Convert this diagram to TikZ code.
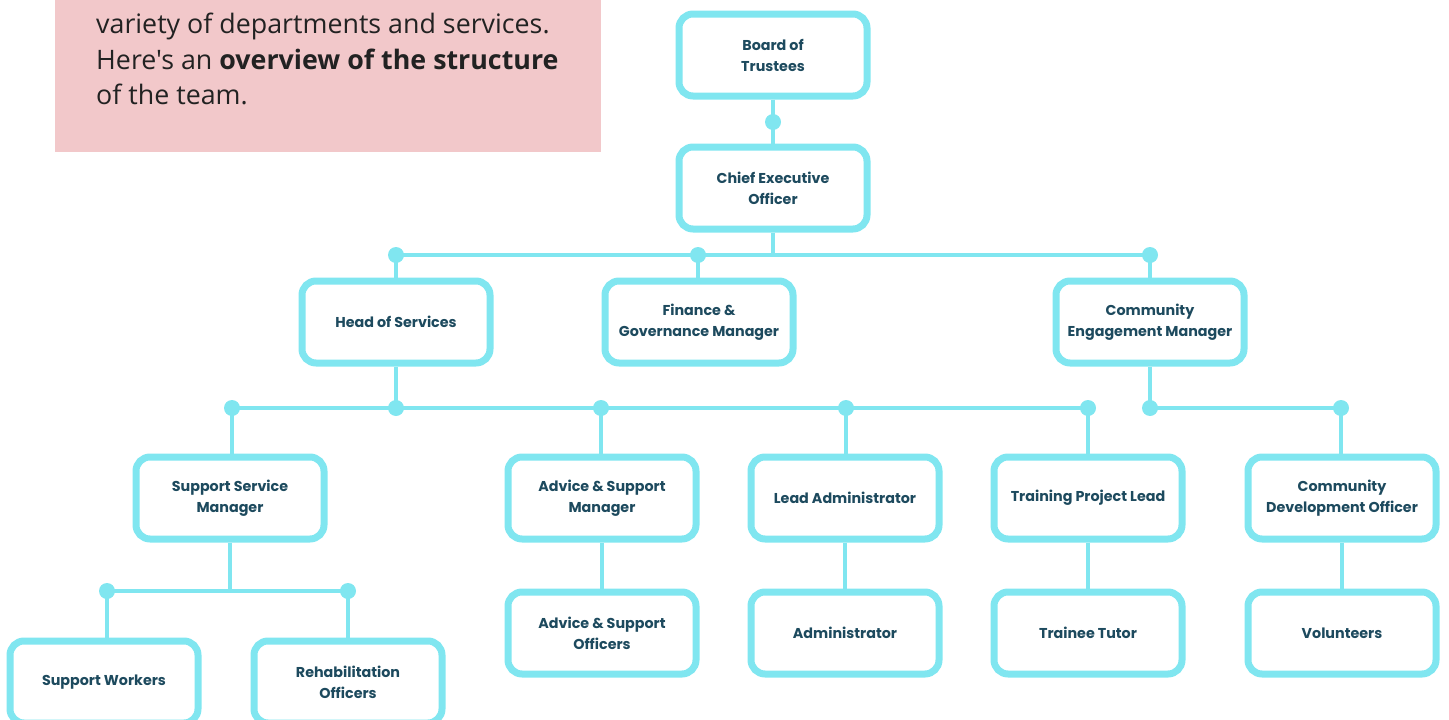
\documentclass[tikz,border=0pt]{standalone}
\usepackage{fontspec}
\setmainfont{Open Sans}[Ligatures=TeXOff]
\newfontfamily\boxfont{Poppins}
\usetikzlibrary{backgrounds}
\definecolor{cyanline}{HTML}{80E6F0}
\definecolor{boxtext}{HTML}{1D4A5E}
\definecolor{pinkbg}{HTML}{F2C8CA}
\definecolor{bodytext}{HTML}{222222}
\begin{document}
\begin{tikzpicture}[x=1pt,y=-1pt,
  role/.style={draw=cyanline, line width=7pt, rounded corners=14pt, fill=white,
    minimum width=188pt, minimum height=82pt, align=center, inner sep=0pt,
    font=\boxfont\bfseries\fontsize{14.3}{21}\selectfont, text=boxtext},
  link/.style={draw=cyanline, line width=4pt},
  dot/.style={circle, fill=cyanline, minimum size=16pt, inner sep=0pt},
  body/.style={anchor=base west, inner sep=0pt, text=bodytext, font=\fontsize{26.8}{36}\selectfont}]
\useasboundingbox (0,0) rectangle (1449,720);
\clip (0,0) rectangle (1449,720);
% intro box
\fill[pinkbg] (55,-5) rectangle (601,152);
\node[body] (t1) at (96,34) {variety of departments and services.};
\node[body] (t2) at (96,69) {Here's an \textbf{overview of the structure}};
\node[body] (t3) at (96,104) {of the team.};
% roles
\node[role] (bot) at (773,55) {Board of\\Trustees};
\node[role] (ceo) at (773,188) {Chief Executive\\Officer};
\node[role] (hos) at (396,322) {Head of Services};
\node[role] (fin) at (699,322) {Finance \&\\Governance Manager};
\node[role] (cem) at (1150,322) {Community\\Engagement Manager};
\node[role] (ssm) at (230,498) {Support Service\\Manager};
\node[role] (asm) at (602,498) {Advice \& Support\\Manager};
\node[role] (lad) at (845,498) {Lead Administrator};
\node[role] (tpl) at (1088,498) {Training Project Lead};
\node[role] (cdo) at (1342,498) {Community\\Development Officer};
\node[role] (aso) at (602,633) {Advice \& Support\\Officers};
\node[role] (adm) at (845,633) {Administrator};
\node[role] (tt) at (1088,633) {Trainee Tutor};
\node[role] (vol) at (1342,633) {Volunteers};
\node[role] (sw) at (104,682) {Support Workers};
\node[role] (ro) at (348,682) {Rehabilitation\\Officers};
% junction dots
\node[dot] (j0) at (773,122) {};
\coordinate (b1) at (773,255);
\node[dot] (j1) at (396,255) {};
\node[dot] (j2) at (698,255) {};
\node[dot] (j3) at (1150,255) {};
\node[dot] (k0) at (396,408) {};
\node[dot] (k1) at (232,408) {};
\node[dot] (k2) at (601,408) {};
\node[dot] (k3) at (846,408) {};
\node[dot] (k4) at (1088,408) {};
\node[dot] (m0) at (1150,408) {};
\node[dot] (m1) at (1341,408) {};
\coordinate (s0) at (230,591);
\node[dot] (s1) at (107,591) {};
\node[dot] (s2) at (348,591) {};
\begin{scope}[on background layer]
\draw[link] (bot.south) -- (ceo.north);
\draw[link] (ceo.south) -- (b1);
\draw[link] (j1.center) -- (j3.center);
\draw[link] (j1.center) -- (hos.north);
\draw[link] (j2.center) -- (j2 |- fin.north);
\draw[link] (j3.center) -- (cem.north);
\draw[link] (hos.south) -- (k0.center);
\draw[link] (k1.center) -- (k4.center);
\draw[link] (k1.center) -- (k1 |- ssm.north);
\draw[link] (k2.center) -- (k2 |- asm.north);
\draw[link] (k3.center) -- (k3 |- lad.north);
\draw[link] (k4.center) -- (tpl.north);
\draw[link] (cem.south) -- (m0.center);
\draw[link] (m0.center) -- (m1.center);
\draw[link] (m1.center) -- (m1 |- cdo.north);
\draw[link] (asm.south) -- (aso.north);
\draw[link] (lad.south) -- (adm.north);
\draw[link] (tpl.south) -- (tt.north);
\draw[link] (cdo.south) -- (vol.north);
\draw[link] (ssm.south) -- (s0);
\draw[link] (s1.center) -- (s2.center);
\draw[link] (s1.center) -- (s1 |- sw.north);
\draw[link] (s2.center) -- (ro.north);
\end{scope}
\end{tikzpicture}
\end{document}
